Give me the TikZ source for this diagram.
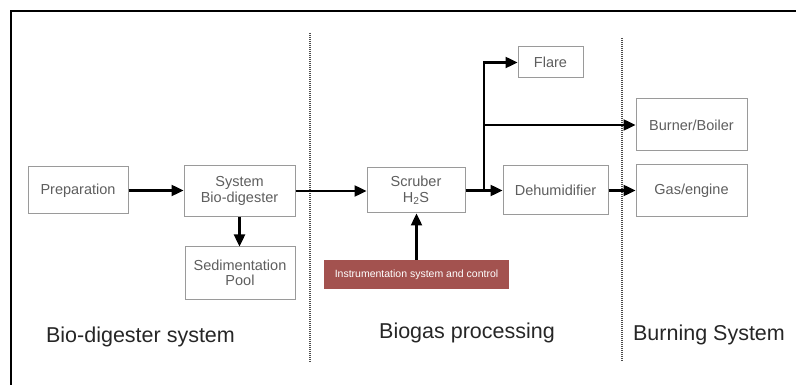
\documentclass[tikz,border=0pt]{standalone}
\usepackage{fontspec}
\setmainfont{Liberation Sans}
\usetikzlibrary{arrows.meta}
\definecolor{boxtext}{HTML}{5E5E5E}
\definecolor{boxline}{HTML}{9A9A9A}
\definecolor{instr}{HTML}{A3524F}
\tikzset{
  blk/.style={draw=boxline, line width=1pt, fill=white, text=boxtext, font=\fontsize{14.5}{15.5}\selectfont, align=center, inner sep=0pt, minimum width=#1},
  conn/.style={line width=2.4pt, -{Triangle[length=12pt,width=11pt]}},
  plain/.style={line width=2.4pt},
  divider/.style={dash pattern=on 1pt off 1pt, line width=1.4pt, draw=black!70},
  section/.style={font=\fontsize{21.5}{23}\selectfont, text=black!85, inner sep=0pt}
}
\begin{document}
\begin{tikzpicture}[x=1pt,y=-1pt]
\useasboundingbox (0,0) rectangle (796,385);
% frame
\draw[line width=2.2pt] (11,385) -- (11,11) -- (796,11);
% dividers
\draw[divider] (310,33) -- (310,362);
\draw[divider] (622,38) -- (622,362);
% boxes
\node[blk=100pt, minimum height=47pt] (prep) at (78,190.5) {Preparation};
\node[blk=111pt, minimum height=51pt] (sys) at (239.5,191) {System\\Bio-digester};
\node[blk=110pt, minimum height=52pt] (sed) at (240,273) {Sedimentation\\Pool};
\node[blk=98pt, minimum height=45pt] (scr) at (416,190.5) {Scruber\\H\textsubscript{2}S};
\node[draw=none, fill=instr, text=white, font=\fontsize{10.5}{12}\selectfont, inner sep=0pt, minimum width=185pt, minimum height=29pt] (ins) at (416.5,274.5) {Instrumentation system and control};
\node[blk=65pt, minimum height=31pt] (flare) at (550.5,62.5) {Flare};
\node[blk=105pt, minimum height=49pt] (dehum) at (555.5,190.5) {Dehumidifier};
\node[blk=111pt, minimum height=52pt] (burner) at (691.5,125) {Burner/Boiler};
\node[blk=111pt, minimum height=52pt] (gas) at (691.5,191) {Gas/engine};
% junctions
\coordinate (j) at (484,190.5);
\coordinate (j2) at (484,125);
% connectors
\draw[conn] (prep.east) -- (sys.west |- prep.east);
\draw[conn] (sys.south) -- (sed.north -| sys.south);
\draw[conn] (sys.east) -- (scr.west |- sys.east);
\draw[conn] (ins.north) -- (scr.south -| ins.north);
\draw[plain] (scr.east) -- (j);
\draw[conn] (j) -- (dehum.west);
\draw[conn] (j) |- (flare.west);
\draw[conn] (j2) -- (burner.west);
\draw[conn] (dehum.east) -- (gas.west |- dehum.east);
% section labels
\node[section] (l1) at (140.5,337) {Bio-digester system};
\node[section] (l2) at (467,333) {Biogas processing};
\node[section] (l3) at (709,335) {Burning System};
\end{tikzpicture}
\end{document}
